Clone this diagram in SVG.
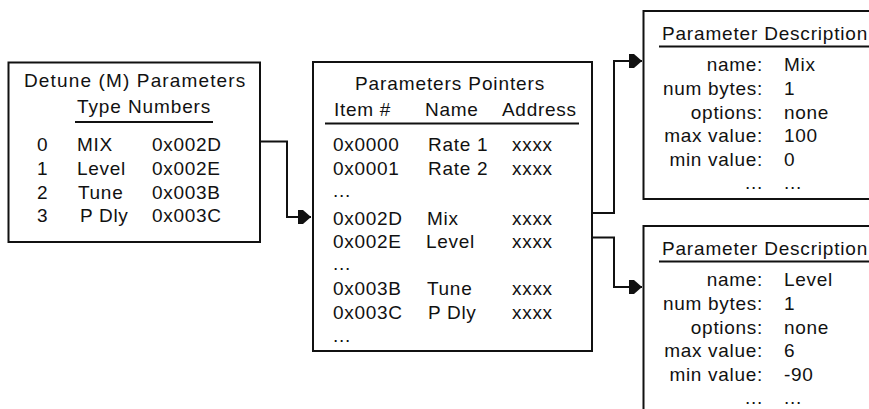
<svg xmlns="http://www.w3.org/2000/svg" width="869" height="409" viewBox="0 0 869 409">
<style>
.box{fill:#fff;stroke:#111;stroke-width:2}
.ul{stroke:#111;stroke-width:2}
.t{font-family:"Liberation Sans",Arial,sans-serif;font-size:19px;fill:#111;letter-spacing:0.7px}
.m{text-anchor:middle}
.e{text-anchor:end}
.c{fill:none;stroke:#111;stroke-width:2}
</style>
<defs>
<marker id="ah" markerUnits="userSpaceOnUse" markerWidth="16" markerHeight="16" viewBox="-14 -8 16 16" refX="0" refY="0" orient="auto">
<path d="M-13,-7 L-8,-7 L0,0 L-8,7 L-13,7 Z" fill="#111"/>
</marker>
</defs>
<rect width="869" height="409" fill="#fff"/>

<g id="connectors">
<path class="c" d="M260,141.5 H287 V217 H311" marker-end="url(#ah)"/>
<path class="c" d="M592,213 H614 V61 H642" marker-end="url(#ah)"/>
<path class="c" d="M592,237.5 H614 V287 H642" marker-end="url(#ah)"/>
</g>

<g id="node-detune">
<rect class="box" x="8.5" y="62.5" width="251.5" height="179.5"/>
<text class="t m" x="135" y="87" textLength="222" lengthAdjust="spacing">Detune (M) Parameters</text>
<text class="t m" x="144" y="113" textLength="134" lengthAdjust="spacing">Type Numbers</text>
<line class="ul" x1="75" y1="122" x2="213" y2="122"/>
<text class="t" x="37" y="151">0</text><text class="t" x="77" y="151">MIX</text><text class="t" x="152" y="151">0x002D</text>
<text class="t" x="37" y="175">1</text><text class="t" x="77" y="175">Level</text><text class="t" x="152" y="175">0x002E</text>
<text class="t" x="37" y="199">2</text><text class="t" x="78" y="199">Tune</text><text class="t" x="152" y="199">0x003B</text>
<text class="t" x="37" y="222">3</text><text class="t" x="80" y="222">P Dly</text><text class="t" x="152" y="222">0x003C</text>
</g>

<g id="node-pointers">
<rect class="box" x="313" y="62" width="279" height="289"/>
<text class="t m" x="450" y="90" textLength="190" lengthAdjust="spacing">Parameters Pointers</text>
<text class="t" x="334" y="116">Item #</text>
<text class="t" x="425" y="116">Name</text>
<text class="t" x="502" y="116">Address</text>
<line class="ul" x1="325" y1="123.5" x2="579" y2="123.5"/>
<text class="t" x="333" y="151">0x0000</text><text class="t" x="428" y="151">Rate 1</text><text class="t" x="512" y="151">xxxx</text>
<text class="t" x="333" y="175">0x0001</text><text class="t" x="428" y="175">Rate 2</text><text class="t" x="512" y="175">xxxx</text>
<text class="t" x="333" y="197">...</text>
<text class="t" x="333" y="225">0x002D</text><text class="t" x="427" y="225">Mix</text><text class="t" x="512" y="225">xxxx</text>
<text class="t" x="333" y="248">0x002E</text><text class="t" x="426" y="248">Level</text><text class="t" x="512" y="248">xxxx</text>
<text class="t" x="333" y="270">...</text>
<text class="t" x="333" y="295">0x003B</text><text class="t" x="427" y="295">Tune</text><text class="t" x="512" y="295">xxxx</text>
<text class="t" x="333" y="319">0x003C</text><text class="t" x="428" y="319">P Dly</text><text class="t" x="512" y="319">xxxx</text>
<text class="t" x="333" y="342">...</text>
</g>

<g id="node-desc-mix">
<rect class="box" x="643.5" y="11" width="240" height="188"/>
<text class="t" x="662" y="40" textLength="206" lengthAdjust="spacing">Parameter Description</text>
<line class="ul" x1="659" y1="46.5" x2="869" y2="46.5"/>
<text class="t e" x="763" y="71">name:</text><text class="t" x="784" y="71">Mix</text>
<text class="t e" x="763" y="95">num bytes:</text><text class="t" x="784" y="95">1</text>
<text class="t e" x="763" y="119">options:</text><text class="t" x="784" y="119">none</text>
<text class="t e" x="763" y="142">max value:</text><text class="t" x="784" y="142">100</text>
<text class="t e" x="763" y="166">min value:</text><text class="t" x="784" y="166">0</text>
<text class="t e" x="763" y="189">...</text><text class="t" x="784" y="189">...</text>
</g>

<g id="node-desc-level">
<rect class="box" x="643.5" y="226" width="240" height="200"/>
<text class="t" x="662" y="255" textLength="206" lengthAdjust="spacing">Parameter Description</text>
<line class="ul" x1="659" y1="261.5" x2="869" y2="261.5"/>
<text class="t e" x="763" y="286">name:</text><text class="t" x="784" y="286">Level</text>
<text class="t e" x="763" y="310">num bytes:</text><text class="t" x="784" y="310">1</text>
<text class="t e" x="763" y="334">options:</text><text class="t" x="784" y="334">none</text>
<text class="t e" x="763" y="357">max value:</text><text class="t" x="784" y="357">6</text>
<text class="t e" x="763" y="381">min value:</text><text class="t" x="784" y="381">-90</text>
<text class="t e" x="763" y="404">...</text><text class="t" x="784" y="404">...</text>
</g>
</svg>
